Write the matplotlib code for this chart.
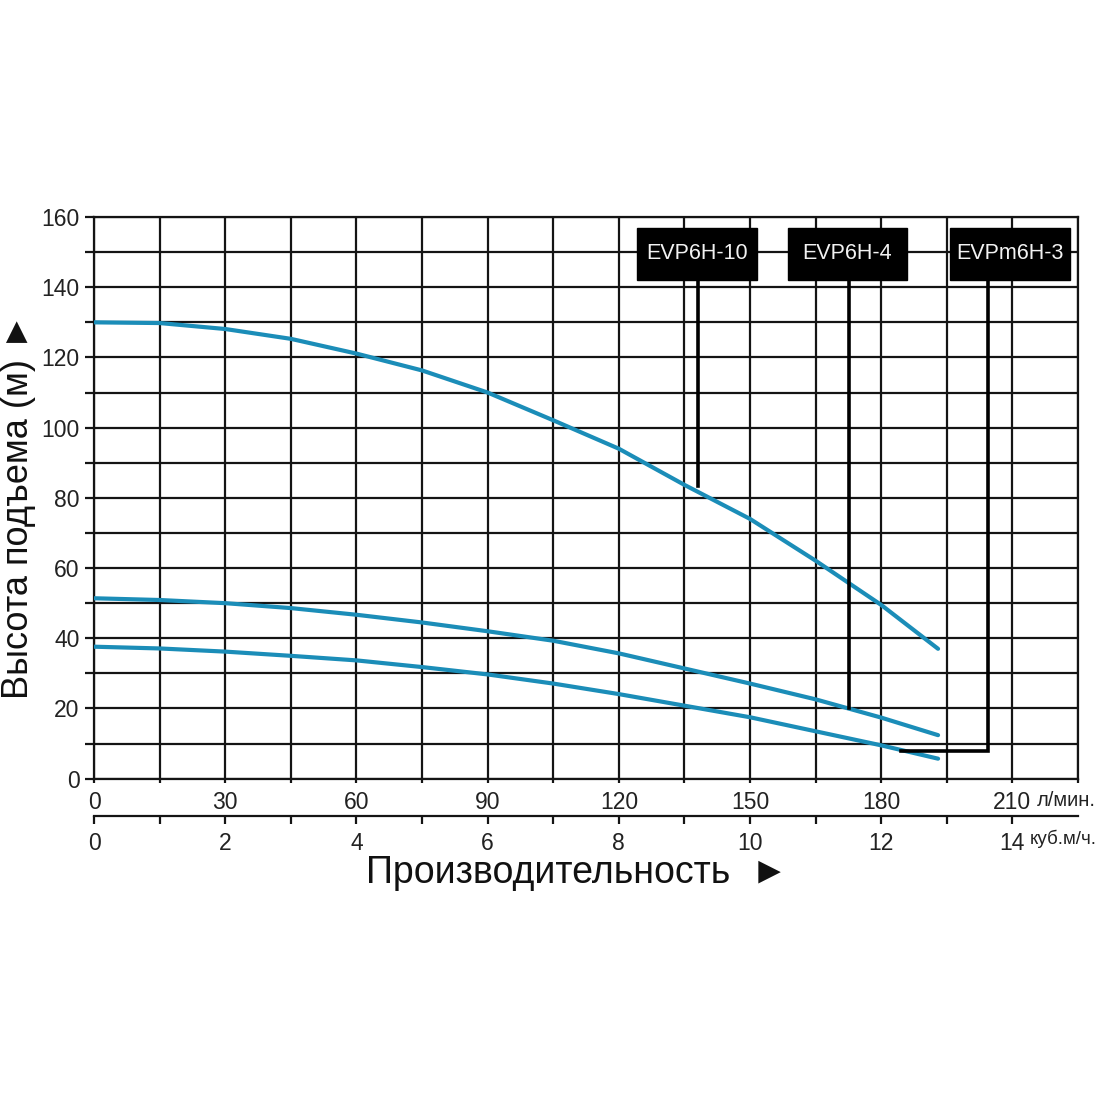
import matplotlib
matplotlib.use("Agg")
from matplotlib import pyplot as plt
from matplotlib.patches import Rectangle
from matplotlib import transforms

plt.rcParams['font.family'] = ['Liberation Sans', 'DejaVu Sans']

# flow in l/min, head in m
flow = [0, 15, 30, 45, 60, 75, 90, 105, 120, 135, 150, 165, 180, 193]
head_evp6h10 = [130, 129.8, 128.1, 125.3, 121.1, 116.3, 110, 102.1, 94.0, 83.7, 74.0, 62.1, 49.5, 37.0]
head_evp6h4 = [51.4, 50.9, 50.0, 48.6, 46.7, 44.5, 42.0, 39.3, 35.7, 31.4, 27.1, 22.6, 17.4, 12.4]
head_evpm6h3 = [37.6, 37.1, 36.2, 35.0, 33.7, 31.8, 29.7, 27.1, 24.1, 20.8, 17.5, 13.5, 9.5, 5.7]

x_ticks = [0, 30, 60, 90, 120, 150, 180, 210]
x_ticklabels = ["0", "30", "60", "90", "120", "150", "180", "210"]
m3h_ticks = list(range(0, 15))
y_ticks = [0, 20, 40, 60, 80, 100, 120, 140, 160]

# label boxes: name, leader x, leader end (x, y)
labels = ["EVP6H-10", "EVP6H-4", "EVPm6H-3"]
leader_x = [138, 172.6, 204.5]
leader_end_y = [83.5, 20.2, 7.9]
leader_end_x = [138, 172.6, 184.5]

CURVE = "#1b8db8"
GRID = "#141414"
TXT = "#222222"
FS = 16.5

fig = plt.figure(figsize=(11, 11), dpi=100)
ax = fig.add_axes([0.0855, 0.2921, 0.8945, 0.5106])

ax.set_xlim(0, 225)
ax.set_ylim(0, 160)

ax.set_xticks(x_ticks)
ax.set_xticklabels(x_ticklabels)
ax.set_xticks(range(0, 226, 15), minor=True)
ax.set_yticks(y_ticks)
ax.set_yticks(range(0, 161, 10), minor=True)
ax.grid(True, which="both", color=GRID, lw=1.6)
ax.set_axisbelow(True)
for s in ax.spines.values():
    s.set_color(GRID)
    s.set_linewidth(1.6)
ax.tick_params(axis="y", which="both", length=6.5, width=1.6, color=GRID,
               labelsize=FS, pad=4, labelcolor=TXT)
ax.tick_params(axis="x", which="both", length=3, width=1.6, color=GRID,
               labelsize=FS, pad=6, labelcolor=TXT)

for h in (head_evp6h10, head_evp6h4, head_evpm6h3):
    ax.plot(flow, h, color=CURVE, lw=3.0, solid_capstyle="round", zorder=3)

# second axis in m3/h
sec = ax.secondary_xaxis(-0.067, functions=(lambda x: x / 15, lambda x: x * 15))
sec.set_xticks(m3h_ticks)
sec.set_xticklabels([str(t) if t % 2 == 0 else "" for t in m3h_ticks])
sec.tick_params(length=6, width=1.6, color=GRID, labelsize=FS, pad=5,
                labelcolor=TXT)
sec.spines["bottom"].set_linewidth(1.6)
sec.spines["bottom"].set_color(GRID)

# unit texts after 210 and 14
trans = transforms.blended_transform_factory(ax.transData, ax.transAxes)
ax.text(215.6, -0.039, "л/мин.", transform=trans, fontsize=14.5,
        ha="left", va="center", color=TXT)
ax.text(213.9, -0.1075, "куб.м/ч.", transform=trans, fontsize=13.5,
        ha="left", va="center", color=TXT)

# model labels with leader lines
box_x0 = [124.1, 158.6, 195.8]
box_w = 27.4
for name, lx, ex, ey, bx in zip(labels, leader_x, leader_end_x, leader_end_y, box_x0):
    ax.plot([lx, lx, ex], [142, ey, ey], color="black", lw=2.6, zorder=4,
            solid_joinstyle="miter")
    ax.add_patch(Rectangle((bx, 142.1), box_w, 14.8, facecolor="black",
                           edgecolor="black", zorder=5))
    ax.text(bx + box_w / 2, 149.5, name, color="#f2f2f2", fontsize=15.5,
            ha="center", va="center", zorder=6)

fig.text(0.0165, 0.54, "Высота подъема (м) ►", rotation=90, fontsize=26,
         ha="center", va="center", color="#111111")
fig.text(0.5245, 0.2064, "Производительность  ►", fontsize=27,
         ha="center", va="center", color="#111111")

fig.savefig("out.png", dpi=100, facecolor="white")
